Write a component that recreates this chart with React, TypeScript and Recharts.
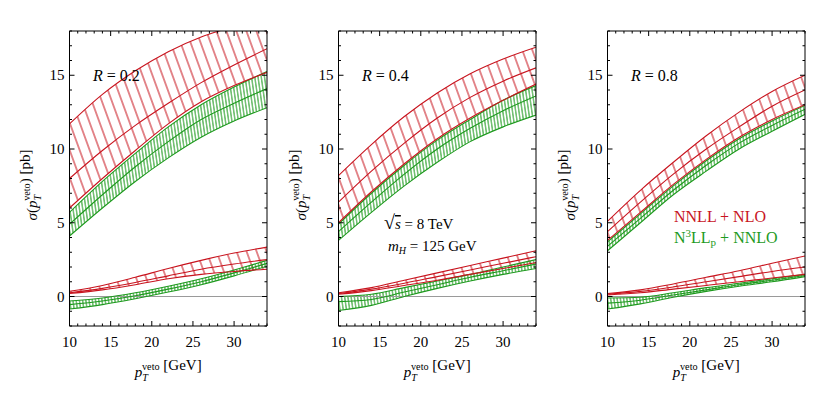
import React from 'react';
import { ComposedChart, Area, Line, XAxis, YAxis, ReferenceLine } from 'recharts';

// ---------- data ----------
const ptVeto = [10, 14, 18, 22, 26, 30, 34];
const xTickValues = [10, 11, 12, 13, 14, 15, 16, 17, 18, 19, 20, 21, 22, 23, 24, 25, 26, 27, 28, 29, 30, 31, 32, 33, 34];
const yTickValues = [-2, -1, 0, 1, 2, 3, 4, 5, 6, 7, 8, 9, 10, 11, 12, 13, 14, 15, 16, 17, 18];
const xTickLabels = [10, 15, 20, 25, 30];
const yTickLabels = [0, 5, 10, 15];
const panelLabels = ['0.2', '0.4', '0.8'];
const legendNames = ['NNLL + NLO', 'N3LLp + NNLO'];

// R = 0.2
const r02NnllHi = [11.7, 13.7, 15.3, 16.6, 17.6, 18.3, 18.9];
const r02NnllMid = [8.0, 9.9, 11.6, 13.1, 14.5, 15.7, 16.8];
const r02NnllLo = [6.0, 8.0, 9.9, 11.7, 13.2, 14.3, 15.2];
const r02N3llHi = [5.7, 7.8, 9.7, 11.5, 13.0, 14.2, 15.25];
const r02N3llMid = [4.9, 6.9, 8.8, 10.5, 12.0, 13.1, 14.1];
const r02N3llLo = [4.1, 6.0, 7.8, 9.4, 10.8, 11.9, 12.8];
const r02NnllHiB = [0.35, 0.75, 1.3, 1.9, 2.45, 2.95, 3.35];
const r02NnllMidB = [0.25, 0.55, 0.95, 1.4, 1.85, 2.2, 2.5];
const r02NnllLoB = [0.2, 0.45, 0.8, 1.2, 1.5, 1.7, 1.85];
const r02N3llHiB = [-0.3, -0.1, 0.25, 0.7, 1.2, 1.8, 2.45];
const r02N3llMidB = [-0.55, -0.3, 0.05, 0.5, 1.0, 1.6, 2.25];
const r02N3llLoB = [-0.85, -0.55, -0.15, 0.3, 0.8, 1.4, 2.05];

// R = 0.4
const r04NnllHi = [8.2, 10.3, 12.2, 13.8, 15.1, 16.1, 16.9];
const r04NnllMid = [6.4, 8.5, 10.4, 12.1, 13.5, 14.6, 15.5];
const r04NnllLo = [5.0, 7.1, 9.0, 10.7, 12.1, 13.3, 14.4];
const r04N3llHi = [4.9, 7.0, 8.9, 10.6, 12.0, 13.3, 14.3];
const r04N3llMid = [4.4, 6.4, 8.3, 10.0, 11.4, 12.6, 13.6];
const r04N3llLo = [3.8, 5.7, 7.5, 9.1, 10.5, 11.5, 12.3];
const r04NnllHiB = [0.25, 0.6, 1.1, 1.6, 2.1, 2.6, 3.1];
const r04NnllMidB = [0.2, 0.5, 0.9, 1.35, 1.8, 2.25, 2.7];
const r04NnllLoB = [0.15, 0.4, 0.75, 1.1, 1.5, 1.9, 2.3];
const r04N3llHiB = [0.0, 0.15, 0.6, 1.05, 1.5, 2.0, 2.5];
const r04N3llMidB = [-0.35, -0.2, 0.3, 0.8, 1.3, 1.75, 2.2];
const r04N3llLoB = [-0.95, -0.6, 0.0, 0.55, 1.05, 1.5, 1.9];

// R = 0.8
const r08NnllHi = [5.1, 7.2, 9.1, 10.9, 12.5, 13.9, 15.0];
const r08NnllMid = [4.4, 6.4, 8.3, 10.0, 11.5, 12.9, 14.0];
const r08NnllLo = [3.8, 5.7, 7.6, 9.3, 10.8, 12.0, 13.0];
const r08N3llHi = [3.7, 5.6, 7.5, 9.2, 10.7, 11.9, 12.95];
const r08N3llMid = [3.4, 5.3, 7.2, 8.9, 10.4, 11.6, 12.7];
const r08N3llLo = [3.1, 5.0, 6.9, 8.5, 10.0, 11.2, 12.35];
const r08NnllHiB = [0.2, 0.45, 0.85, 1.3, 1.75, 2.25, 2.75];
const r08NnllMidB = [0.15, 0.35, 0.65, 1.0, 1.35, 1.7, 2.0];
const r08NnllLoB = [0.1, 0.25, 0.5, 0.75, 1.0, 1.25, 1.5];
const r08N3llHiB = [-0.1, -0.05, 0.25, 0.6, 0.9, 1.2, 1.5];
const r08N3llMidB = [-0.45, -0.25, 0.1, 0.45, 0.8, 1.1, 1.42];
const r08N3llLoB = [-0.85, -0.5, -0.05, 0.35, 0.7, 1.0, 1.35];

// ---------- styling ----------
const RED = '#c8141e';
const GREEN = '#1e9a1e';
const FONT = '"Liberation Serif", "DejaVu Serif", serif';

type Series = number[][];

const buildRows = (s: Series) =>
  ptVeto.map((x, i) => ({
    x,
    aHi: s[0][i], aMid: s[1][i], aLo: s[2][i], aBand: [s[2][i], s[0][i]],
    bHi: s[3][i], bMid: s[4][i], bLo: s[5][i], bBand: [s[5][i], s[3][i]],
    cHi: s[6][i], cMid: s[7][i], cLo: s[8][i], cBand: [s[8][i], s[6][i]],
    dHi: s[9][i], dMid: s[10][i], dLo: s[11][i], dBand: [s[11][i], s[9][i]],
  }));

const panels = [
  buildRows([r02NnllHi, r02NnllMid, r02NnllLo, r02N3llHi, r02N3llMid, r02N3llLo,
    r02NnllHiB, r02NnllMidB, r02NnllLoB, r02N3llHiB, r02N3llMidB, r02N3llLoB]),
  buildRows([r04NnllHi, r04NnllMid, r04NnllLo, r04N3llHi, r04N3llMid, r04N3llLo,
    r04NnllHiB, r04NnllMidB, r04NnllLoB, r04N3llHiB, r04N3llMidB, r04N3llLoB]),
  buildRows([r08NnllHi, r08NnllMid, r08NnllLo, r08N3llHi, r08N3llMid, r08N3llLo,
    r08NnllHiB, r08NnllMidB, r08NnllLoB, r08N3llHiB, r08N3llMidB, r08N3llLoB]),
];

const CHART_W = 270;
const CHART_H = 413;
// axes are 1px thick; plot area = 69.5..267 x 31..326
const MARGIN = { top: 30, bottom: 86, left: 68.5, right: 2 };
const PLOT_LEFT = 69.5;
const PLOT_W = 197.5;
const chartLefts = [0, 269, 538];

const makeTick = (side: 'bottom' | 'top' | 'left' | 'right') => (props: any) => {
  const { x, y, payload } = props;
  const v = payload.value;
  const major = v % 5 === 0;
  const len = major ? 5 : 2.5;
  let line: any = null;
  let label: any = null;
  if (side === 'bottom') {
    line = <line x1={x} y1={y} x2={x} y2={y - len} stroke="#000" strokeWidth={1} />;
    if (xTickLabels.includes(v)) {
      label = (
        <text x={x} y={y + 21} textAnchor="middle" fontFamily={FONT} fontSize={15} fill="#000">{v}</text>
      );
    }
  } else if (side === 'top') {
    line = <line x1={x} y1={y} x2={x} y2={y + len} stroke="#000" strokeWidth={1} />;
  } else if (side === 'left') {
    line = <line x1={x} y1={y} x2={x + len} y2={y} stroke="#000" strokeWidth={1} />;
    if (yTickLabels.includes(v)) {
      label = (
        <text x={x - 5} y={y + 5} textAnchor="end" fontFamily={FONT} fontSize={15} fill="#000">{v}</text>
      );
    }
  } else {
    line = <line x1={x} y1={y} x2={x - len} y2={y} stroke="#000" strokeWidth={1} />;
  }
  return <g>{line}{label}</g>;
};

const Panel = ({ data, id }: { data: any[]; id: string }) => (
  <ComposedChart width={CHART_W} height={CHART_H} data={data} margin={MARGIN}>
    <defs>
      <pattern id={`${id}-red`} patternUnits="userSpaceOnUse" width={9.4} height={10} patternTransform="rotate(-20)">
        <line x1={4.7} y1={-1} x2={4.7} y2={11} stroke={RED} strokeWidth={1} />
      </pattern>
      <pattern id={`${id}-green`} patternUnits="userSpaceOnUse" width={3.2} height={10} patternTransform="rotate(-8)">
        <line x1={1.6} y1={-1} x2={1.6} y2={11} stroke={GREEN} strokeWidth={1} />
      </pattern>
    </defs>
    <XAxis xAxisId="b" dataKey="x" type="number" domain={[10, 34]} ticks={xTickValues} interval={0}
      allowDataOverflow height={1} tickSize={0} tickMargin={0} tickLine={false}
      axisLine={{ stroke: '#000' }} tick={makeTick('bottom')} />
    <XAxis xAxisId="t" orientation="top" dataKey="x" type="number" domain={[10, 34]} ticks={xTickValues} interval={0}
      allowDataOverflow height={1} tickSize={0} tickMargin={0} tickLine={false}
      axisLine={{ stroke: '#000' }} tick={makeTick('top')} />
    <YAxis yAxisId="l" type="number" domain={[-2, 18]} ticks={yTickValues} interval={0}
      allowDataOverflow width={1} tickSize={0} tickMargin={0} tickLine={false}
      axisLine={{ stroke: '#000' }} tick={makeTick('left')} />
    <YAxis yAxisId="r" orientation="right" type="number" domain={[-2, 18]} ticks={yTickValues} interval={0}
      allowDataOverflow width={1} tickSize={0} tickMargin={0} tickLine={false}
      axisLine={{ stroke: '#000' }} tick={makeTick('right')} />
    <ReferenceLine xAxisId="b" yAxisId="l" y={0} stroke="#9a9a9a" strokeWidth={1} />
    <Area xAxisId="b" yAxisId="l" dataKey="aBand" type="monotone" stroke="none" fill={`url(#${id}-red)`} fillOpacity={1} isAnimationActive={false} />
    <Area xAxisId="b" yAxisId="l" dataKey="cBand" type="monotone" stroke="none" fill={`url(#${id}-red)`} fillOpacity={1} isAnimationActive={false} />
    <Area xAxisId="b" yAxisId="l" dataKey="bBand" type="monotone" stroke="none" fill={`url(#${id}-green)`} fillOpacity={1} isAnimationActive={false} />
    <Area xAxisId="b" yAxisId="l" dataKey="dBand" type="monotone" stroke="none" fill={`url(#${id}-green)`} fillOpacity={1} isAnimationActive={false} />
    {['bHi', 'bMid', 'bLo', 'dHi', 'dMid', 'dLo'].map((k) => (
      <Line key={k} xAxisId="b" yAxisId="l" dataKey={k} type="monotone" stroke={GREEN} strokeWidth={1.1} dot={false} activeDot={false} isAnimationActive={false} />
    ))}
    {['aHi', 'aMid', 'aLo', 'cHi', 'cMid', 'cLo'].map((k) => (
      <Line key={k} xAxisId="b" yAxisId="l" dataKey={k} type="monotone" stroke={RED} strokeWidth={1.1} dot={false} activeDot={false} isAnimationActive={false} />
    ))}
  </ComposedChart>
);

const PtVeto = ({ size }: { size: number }) => (
  <>
    <tspan fontStyle="italic">p</tspan>
    <tspan fontStyle="italic" fontSize={size * 0.68} dy={4}>T</tspan>
    <tspan fontSize={size * 0.68} dx={-6} dy={-11}>veto</tspan>
    <tspan dy={7}>{''}</tspan>
  </>
);

export default function App() {
  const plotLefts = chartLefts.map((l) => l + PLOT_LEFT);
  return (
    <div style={{ position: 'absolute', left: 0, top: 0, width: 822, height: 413, background: '#fff' }}>
      {panels.map((d, i) => (
        <div key={i} style={{ position: 'absolute', left: chartLefts[i], top: 0 }}>
          <Panel data={d} id={`p${i}`} />
        </div>
      ))}
      <svg width={822} height={413} style={{ position: 'absolute', left: 0, top: 0, pointerEvents: 'none' }}>
        {plotLefts.map((pl, i) => (
          <g key={i} fontFamily={FONT} fill="#000">
            <text x={pl + 23.5} y={81} fontSize={16}>
              <tspan fontStyle="italic">R</tspan>
              <tspan>{` = ${panelLabels[i]}`}</tspan>
            </text>
            <text x={pl + PLOT_W / 2} y={377} fontSize={15} textAnchor="middle">
              <PtVeto size={15} />
              <tspan>{' [GeV]'}</tspan>
            </text>
            <text transform={`translate(${pl - 33},185) rotate(-90)`} fontSize={15} textAnchor="middle">
              <tspan fontStyle="italic">σ</tspan>
              <tspan>(</tspan>
              <PtVeto size={15} />
              <tspan>) [pb]</tspan>
            </text>
          </g>
        ))}
        <g fontFamily={FONT} fill="#000" fontSize={15}>
          <text x={384} y={229}>
            <tspan fontSize={20}>√</tspan>
            <tspan fontStyle="italic" style={{ textDecoration: 'overline' }}>s</tspan>
            <tspan>{' = 8 TeV'}</tspan>
          </text>
          <text x={388} y={251}>
            <tspan fontStyle="italic">m</tspan>
            <tspan fontStyle="italic" fontSize={10} dy={3}>H</tspan>
            <tspan dy={-3}>{' = 125 GeV'}</tspan>
          </text>
        </g>
        <g fontFamily={FONT} fontSize={16}>
          <text x={674} y={222} fill={RED}>{legendNames[0]}</text>
          <text x={674} y={243} fill={GREEN}>
            <tspan>N</tspan>
            <tspan fontSize={11} dy={-6}>3</tspan>
            <tspan dy={6}>LL</tspan>
            <tspan fontSize={11} dy={3}>p</tspan>
            <tspan dy={-3}>{' + NNLO'}</tspan>
          </text>
        </g>
      </svg>
    </div>
  );
}
